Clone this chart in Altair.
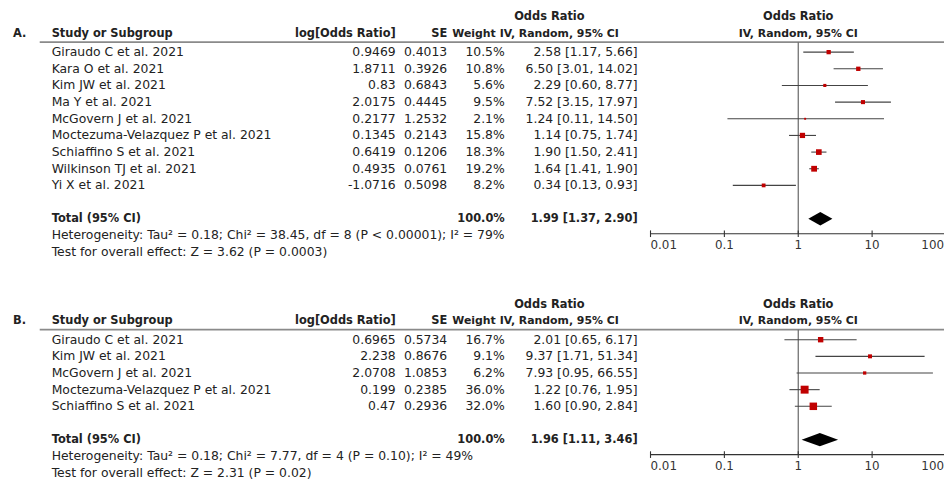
import altair as alt
import pandas as pd

# ---------------- data: panel A ----------------
studies_a = ["Giraudo C et al. 2021", "Kara O et al. 2021", "Kim JW et al. 2021",
             "Ma Y et al. 2021", "McGovern J et al. 2021",
             "Moctezuma-Velazquez P et al. 2021", "Schiaffino S et al. 2021",
             "Wilkinson TJ et al. 2021", "Yi X et al. 2021"]
logor_a = [0.9469, 1.8711, 0.83, 2.0175, 0.2177, 0.1345, 0.6419, 0.4935, -1.0716]
se_a = [0.4013, 0.3926, 0.6843, 0.4445, 1.2532, 0.2143, 0.1206, 0.0761, 0.5098]
weight_a = [10.5, 10.8, 5.6, 9.5, 2.1, 15.8, 18.3, 19.2, 8.2]
or_a = [2.58, 6.50, 2.29, 7.52, 1.24, 1.14, 1.90, 1.64, 0.34]
lo_a = [1.17, 3.01, 0.60, 3.15, 0.11, 0.75, 1.50, 1.41, 0.13]
hi_a = [5.66, 14.02, 8.77, 17.97, 14.50, 1.74, 2.41, 1.90, 0.93]
total_a = [1.99, 1.37, 2.90]
het_a = "Heterogeneity: Tau² = 0.18; Chi² = 38.45, df = 8 (P < 0.00001); I² = 79%"
test_a = "Test for overall effect: Z = 3.62 (P = 0.0003)"

# ---------------- data: panel B ----------------
studies_b = ["Giraudo C et al. 2021", "Kim JW et al. 2021", "McGovern J et al. 2021",
             "Moctezuma-Velazquez P et al. 2021", "Schiaffino S et al. 2021"]
logor_b = [0.6965, 2.238, 2.0708, 0.199, 0.47]
se_b = [0.5734, 0.8676, 1.0853, 0.2385, 0.2936]
weight_b = [16.7, 9.1, 6.2, 36.0, 32.0]
or_b = [2.01, 9.37, 7.93, 1.22, 1.60]
lo_b = [0.65, 1.71, 0.95, 0.76, 0.90]
hi_b = [6.17, 51.34, 66.55, 1.95, 2.84]
total_b = [1.96, 1.11, 3.46]
het_b = "Heterogeneity: Tau² = 0.18; Chi² = 7.77, df = 4 (P = 0.10); I² = 49%"
test_b = "Test for overall effect: Z = 2.31 (P = 0.02)"

panel_labels = ["A.", "B."]
tick_values = [0.01, 0.1, 1, 10, 100]
tick_labels = ["0.01", "0.1", "1", "10", "100"]

# ---------------- layout ----------------
W, H = 944, 477
STEP = 16.8          # px per table line
Y0 = 24              # chart-y of the header line of panel A
PANEL_OFF = 290 / STEP
FONT = "DejaVu Sans"
FS = 12.5
FSB = 11.5
TXT = "#222222"

yscale = alt.Scale(domain=[-Y0 / STEP, (H - Y0) / STEP], range=[0, H], nice=False, zero=False)
xscale = alt.Scale(type="log", domain=[0.01, 100], range=[648, 946], nice=False)


def fmt_ci(o, l, h):
    return f"{o:.2f} [{l:.2f}, {h:.2f}]"


panels = [
    (studies_a, logor_a, se_a, weight_a, or_a, lo_a, hi_a, total_a, het_a, test_a),
    (studies_b, logor_b, se_b, weight_b, or_b, lo_b, hi_b, total_b, het_b, test_b),
]

rows, totals, notes, panel_lines, ticks, diamonds = [], [], [], [], [], []
for p, (st, lg, se, w, o, lo, hi, tot, het, tst) in enumerate(panels):
    off = p * PANEL_OFF
    for i in range(len(st)):
        rows.append(dict(panel=p, line=off + 1.1 + i, study=st[i], logor=str(lg[i]),
                         se=str(se[i]), wtxt=f"{w[i]:.1f}%", w=w[i],
                         ci=fmt_ci(o[i], lo[i], hi[i]), est=o[i], lo=lo[i], hi=hi[i]))
    tline = off + 1.1 + len(st) + 1
    totals.append(dict(panel=p, line=tline, label="Total (95% CI)", wtxt="100.0%",
                       ci=fmt_ci(*tot)))
    notes.append(dict(panel=p, line=tline + 1, text=het))
    notes.append(dict(panel=p, line=tline + 2, text=tst))
    axis_line = tline + 0.9
    panel_lines.append(dict(panel=p, top=off + 0.5, axis=axis_line, one=1.0,
                            x0=tick_values[0], x1=tick_values[-1], head=off, sup=off - 1,
                            lab=panel_labels[p]))
    for k, (tv, tl) in enumerate(zip(tick_values, tick_labels)):
        pos = "first" if k == 0 else ("last" if k == len(tick_values) - 1 else "mid")
        ticks.append(dict(panel=p, v=tv, lab=tl, pos=pos, y0=axis_line - 0.2,
                          y1=axis_line + 0.2, ylab=axis_line + 0.68))
    hd = 0.4
    diamonds.append(dict(panel=p, x=tot[1], yt=tline, yb=tline))
    diamonds.append(dict(panel=p, x=tot[0], yt=tline - hd, yb=tline + hd))
    diamonds.append(dict(panel=p, x=tot[2], yt=tline, yb=tline))

rows = pd.DataFrame(rows)
totals = pd.DataFrame(totals)
notes = pd.DataFrame(notes)
pl = pd.DataFrame(panel_lines)
ticks = pd.DataFrame(ticks)
diamonds = pd.DataFrame(diamonds)


def Y(field):
    return alt.Y(f"{field}:Q", scale=yscale, axis=None)


def text_layer(df, field, x, align, line="line", bold=False, color=TXT, size=None):
    return alt.Chart(df).mark_text(
        align=align, baseline="middle", font=FONT,
        fontSize=size if size else (FSB if bold else FS),
        fontWeight="bold" if bold else "normal", color=color
    ).encode(x=alt.value(x), y=Y(line), text=alt.Text(f"{field}:N"))


layers = []

# header underline
layers.append(alt.Chart(pl).mark_rule(color="#8a8a8a", strokeWidth=1.7).encode(
    x=alt.value(32), x2=alt.value(W), y=Y("top")))
# vertical line at OR = 1
layers.append(alt.Chart(pl).mark_rule(color="#666666", strokeWidth=1.2).encode(
    x=alt.X("one:Q", scale=xscale, axis=None), y=Y("top"), y2="axis"))
# x axis line
layers.append(alt.Chart(pl).mark_rule(color="#333333", strokeWidth=1.1).encode(
    x=alt.X("x0:Q", scale=xscale, axis=None), x2="x1", y=Y("axis")))
# ticks
layers.append(alt.Chart(ticks).mark_rule(color="#333333", strokeWidth=1.1).encode(
    x=alt.X("v:Q", scale=xscale, axis=None), y=Y("y0"), y2="y1"))
for pos, align, dx in [("first", "left", 0), ("mid", "center", 0), ("last", "right", -2)]:
    layers.append(alt.Chart(ticks).transform_filter(alt.datum.pos == pos).mark_text(
        font=FONT, fontSize=12, color="#333333", baseline="middle", align=align, dx=dx
    ).encode(x=alt.X("v:Q", scale=xscale, axis=None), y=Y("ylab"), text="lab:N"))
# CI whiskers
layers.append(alt.Chart(rows).mark_rule(color="#444444", strokeWidth=1.1).encode(
    x=alt.X("lo:Q", scale=xscale, axis=None), x2="hi", y=Y("line")))
# weight squares
layers.append(alt.Chart(rows).mark_square(color="#c00000", opacity=1).encode(
    x=alt.X("est:Q", scale=xscale, axis=None), y=Y("line"),
    size=alt.Size("w:Q", scale=alt.Scale(domain=[0, 36], range=[0, 64]), legend=None)))
# diamonds
layers.append(alt.Chart(diamonds).mark_area(color="black", opacity=1).encode(
    x=alt.X("x:Q", scale=xscale, axis=None),
    y=alt.Y("yt:Q", scale=yscale, axis=None, stack=None), y2="yb",
    detail="panel:N"))

# headers
layers.append(text_layer(pl, "lab", 5, "left", line="head", bold=True))
hdr = pl.assign(s="Study or Subgroup", l="log[Odds Ratio]", e="SE", w="Weight",
                o="Odds Ratio", iv="IV, Random, 95% CI")
layers.append(text_layer(hdr, "s", 44, "left", line="head", bold=True))
layers.append(text_layer(hdr, "l", 391, "right", line="head", bold=True))
layers.append(text_layer(hdr, "e", 443, "right", line="head", bold=True))
layers.append(text_layer(hdr, "w", 492, "right", line="head", bold=True, size=11))
layers.append(text_layer(hdr, "o", 546, "center", line="sup", bold=True))
layers.append(text_layer(hdr, "iv", 556, "center", line="head", bold=True, size=11))
layers.append(text_layer(hdr, "o", 797, "center", line="sup", bold=True))
layers.append(text_layer(hdr, "iv", 797, "center", line="head", bold=True, size=11))

# study rows
layers.append(text_layer(rows, "study", 44, "left"))
layers.append(text_layer(rows, "logor", 391, "right"))
layers.append(text_layer(rows, "se", 443, "right"))
layers.append(text_layer(rows, "wtxt", 501, "right"))
layers.append(text_layer(rows, "ci", 635, "right"))

# totals
layers.append(text_layer(totals, "label", 44, "left", bold=True))
layers.append(text_layer(totals, "wtxt", 501, "right", bold=True))
layers.append(text_layer(totals, "ci", 635, "right", bold=True))

# notes
layers.append(text_layer(notes, "text", 44, "left"))

chart = alt.layer(*layers).properties(
    width=W, height=H, padding=0,
    autosize=alt.AutoSizeParams(type="none")
).configure_view(stroke=None)

chart.save("out.html", embed_options={"renderer": "svg", "actions": False})
